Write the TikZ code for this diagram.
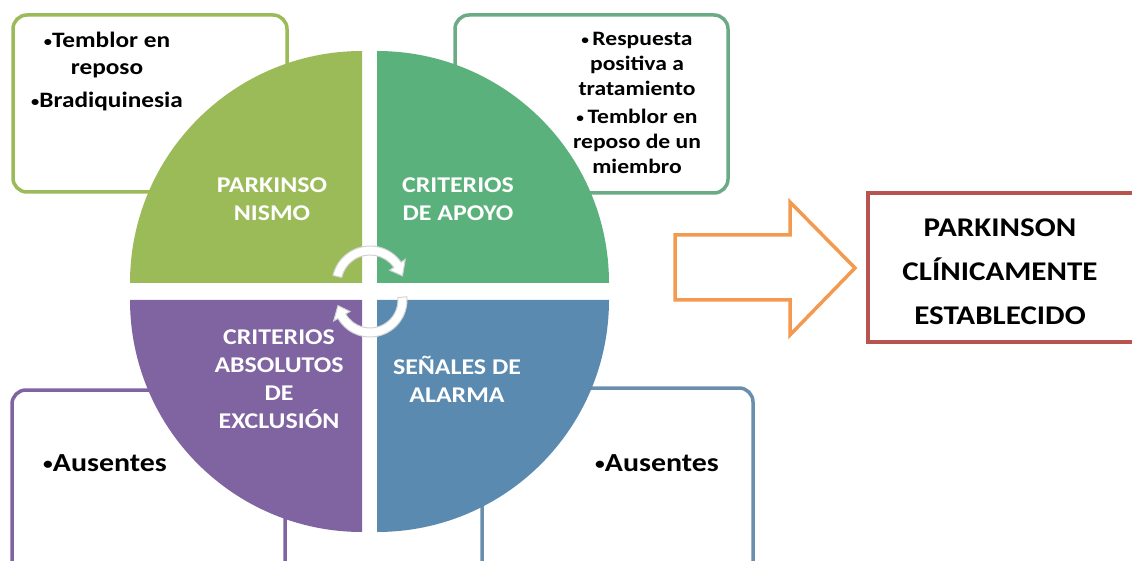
\documentclass[tikz,border=0pt]{standalone}
\usepackage{fontspec}
\setmainfont{Carlito}[FakeStretch=1.15]
\usetikzlibrary{calc}
\definecolor{olv}{HTML}{9BBB59}
\definecolor{grn}{HTML}{5BB17B}
\definecolor{grnb}{HTML}{6AAB85}
\definecolor{prp}{HTML}{8064A2}
\definecolor{blu}{HTML}{5A8AB0}
\definecolor{blub}{HTML}{6A8EAE}
\definecolor{org}{HTML}{F39A50}
\definecolor{rdb}{HTML}{B85450}
\newcommand\mybul{\raisebox{0.12ex}{\scalebox{0.65}{•}}}
\begin{document}
\begin{tikzpicture}[x=1pt,y=1pt,
  box/.style={draw, line width=3.5pt, rounded corners=14pt, fill=white},
  qlabel/.style={text=white, font=\bfseries\fontsize{22.5}{28}\selectfont, align=center, inner sep=0pt},
  btext/.style={text=black, font=\bfseries\fontsize{20}{26}\selectfont, align=center, inner sep=0pt},
  cyc/.style={fill=white, draw=gray!35, line width=1pt}]
\useasboundingbox (0,0) rectangle (1132,560);
\clip (0,0) rectangle (1132,560);
% boxes behind the circle
\node[box, draw=olv, minimum width=274pt, minimum height=177pt] (tlbox) at (150,456.5) {};
\node[box, draw=grnb, minimum width=273pt, minimum height=178pt] (trbox) at (591.5,456) {};
\node[box, draw=prp, minimum width=273pt, minimum height=190pt] (blbox) at (148.5,75) {};
\node[box, draw=blub, minimum width=271pt, minimum height=192pt] (brbox) at (617.5,76) {};
% quadrants
\fill[olv] (362,277) -- (130,277) arc[start angle=180,end angle=90,radius=232] -- cycle;
\fill[grn] (377,277) -- (609,277) arc[start angle=0,end angle=90,radius=232] -- cycle;
\fill[prp] (362,260) -- (130,260) arc[start angle=180,end angle=270,radius=232] -- cycle;
\fill[blu] (377,260) -- (609,260) arc[start angle=0,end angle=-90,radius=232] -- cycle;
% circular arrows
\coordinate (ca) at (370,276);
\coordinate (cb) at (370,260);
\filldraw[cyc] ($(ca)+(167:38)$) arc[start angle=167,end angle=35,radius=38] -- ($(ca)+(35:43)$) -- ($(ca)+(14:33.5)$) -- ($(ca)+(35:24)$) -- ($(ca)+(35:29)$) arc[start angle=35,end angle=167,radius=29] -- cycle;
\filldraw[cyc] ($(cb)+(5:37)$) arc[start angle=5,end angle=-150,radius=37] -- ($(cb)+(-150:42)$) -- ($(cb)+(-170:32.5)$) -- ($(cb)+(-150:23)$) -- ($(cb)+(-150:28)$) arc[start angle=-150,end angle=5,radius=28] -- cycle;
% quadrant labels
\node[qlabel] (lpark) at (272,361) {PARKINSO\\NISMO};
\node[qlabel] (lapoyo) at (458,361) {CRITERIOS\\DE APOYO};
\node[qlabel] (lexcl) at (279,181) {CRITERIOS\\ABSOLUTOS\\DE\\EXCLUSIÓN};
\node[qlabel] (lalarma) at (457,181) {SEÑALES DE\\ALARMA};
% box texts
\node[btext, font=\bfseries\fontsize{22}{27}\selectfont] (ttl) at (107,488) {\mybul Temblor en\\reposo\\[6pt]\mybul Bradiquinesia};
\node[btext, font=\bfseries\fontsize{20.5}{25}\selectfont] (ttr) at (637,457) {\mybul\,Respuesta\\positiva a\\tratamiento\\[3pt]\mybul\,Temblor en\\reposo de un\\miembro};
\node[btext, font=\bfseries\fontsize{26}{30}\selectfont] (tbl) at (105,97) {\mybul Ausentes};
\node[btext, font=\bfseries\fontsize{26}{30}\selectfont] (tbr) at (657,97) {\mybul Ausentes};
% big arrow
\draw[org, line width=3.5pt, line join=miter, fill=white] (675,325) -- (790,325) -- (790,358) -- (855,292) -- (790,225) -- (790,260) -- (675,260) -- cycle;
% result box
\node[draw=rdb, line width=3.5pt, minimum width=290pt, minimum height=149pt, fill=white] (result) at (1013,292.5) {};
\node[btext, font=\bfseries\fontsize{27}{44}\selectfont] (rtext) at (1000,288) {PARKINSON\\CLÍNICAMENTE\\ESTABLECIDO};
\end{tikzpicture}
\end{document}
